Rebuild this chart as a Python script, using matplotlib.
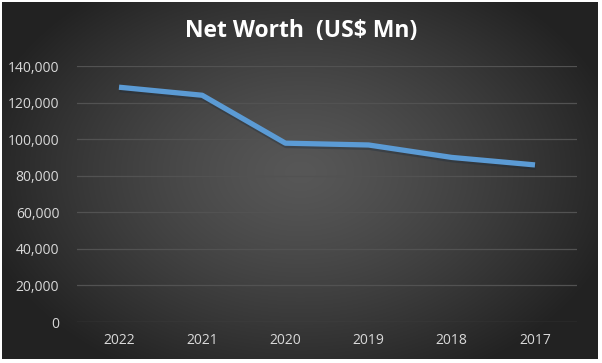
import numpy as np
import matplotlib
matplotlib.use("Agg")
import matplotlib.pyplot as plt
from matplotlib.ticker import FuncFormatter

years = ["2022", "2021", "2020", "2019", "2018", "2017"]
net_worth = [128400, 124000, 97800, 96800, 90000, 85900]
yticks = [0, 20000, 40000, 60000, 80000, 100000, 120000, 140000]

W, H = 602, 363
fig = plt.figure(figsize=(W / 100, H / 100), dpi=100)
fig.patch.set_facecolor("white")

# background chart area with radial gradient
bg = fig.add_axes([2 / W, 1 - 359 / H, 596 / W, 357 / H])
bg.set_axis_off()
yy, xx = np.mgrid[0:357, 0:596]
cx, cy = 298, 170
r = np.sqrt(((xx - cx) / 330.0) ** 2 + ((yy - cy) / 230.0) ** 2)
inner = np.array([0x57, 0x57, 0x57]) / 255
outer = np.array([0x22, 0x22, 0x22]) / 255
t = np.clip(r, 0, 1)[..., None] ** 1.3
img = inner * (1 - t) + outer * t
bg.imshow(img, aspect="auto", extent=[0, 1, 0, 1], interpolation="bilinear")

# plot area
left, right = 77.4, 576.6
top, bottom = 66, 322
ax = fig.add_axes([left / W, 1 - bottom / H, (right - left) / W, (bottom - top) / H])
ax.patch.set_alpha(0)
x = np.arange(len(years))
ax.plot(x, net_worth, color="#1a2a3a", lw=4.2, alpha=0.35, solid_capstyle="butt",
        transform=ax.transData + matplotlib.transforms.ScaledTranslation(0.5 / 72, -1.5 / 72, fig.dpi_scale_trans))
ax.plot(x, net_worth, color="#5B9BD5", lw=3.8, solid_capstyle="butt", solid_joinstyle="round")
ax.set_xlim(-0.5, len(years) - 0.5)
ax.set_ylim(0, 140000)
ax.set_yticks(yticks)
ax.yaxis.set_major_formatter(FuncFormatter(lambda v, p: f"{int(v):,}"))
ax.set_xticks(x)
ax.set_xticklabels(years)
ax.grid(axis="y", color="#525252", lw=0.9)
ax.set_axisbelow(True)
for s in ax.spines.values():
    s.set_visible(False)
ax.tick_params(length=0, colors="#d9d9d9", labelsize=10, pad=8)
ax.tick_params(axis="y", pad=13)
for lab in ax.get_xticklabels() + ax.get_yticklabels():
    lab.set_family("Open Sans")

fig.text(0.5, 1 - 31 / H, "Net Worth  (US$ Mn)", ha="center", va="center",
         color="white", fontsize=16.5, fontweight="bold", family="Open Sans")

fig.savefig("out.png", dpi=100, facecolor=fig.get_facecolor())
